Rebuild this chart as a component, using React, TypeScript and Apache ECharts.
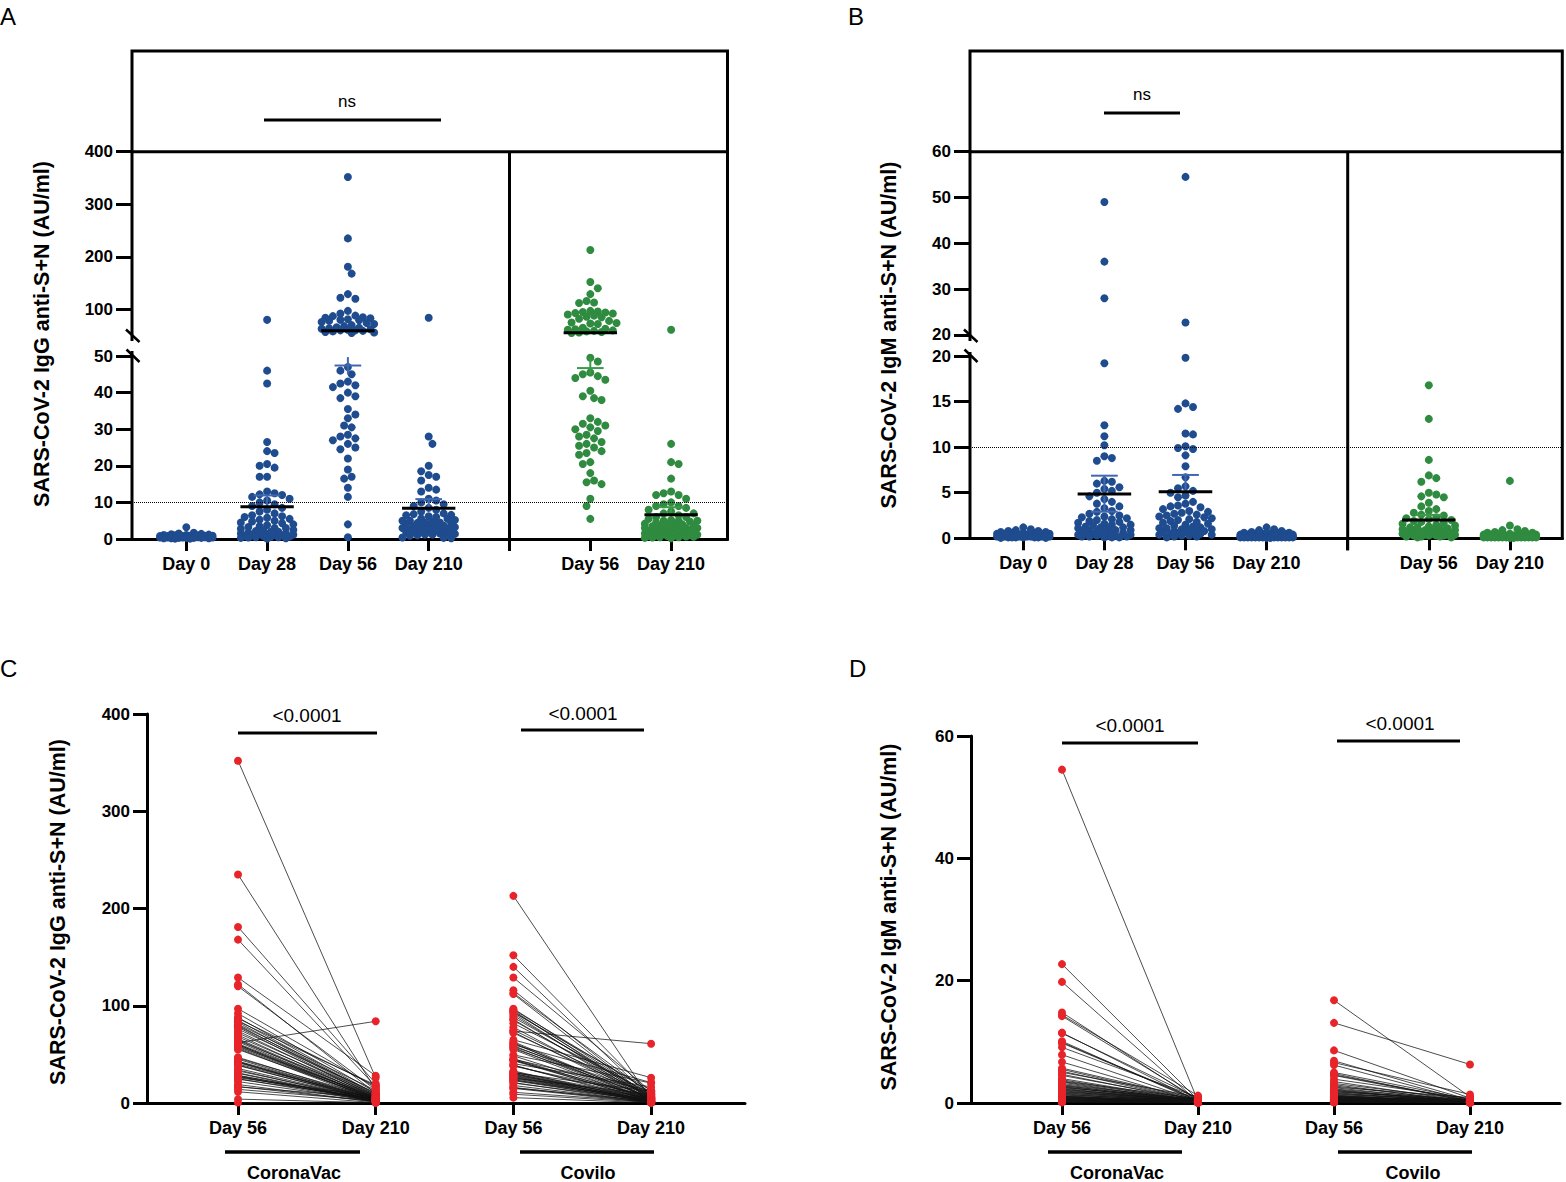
import React, { useEffect, useRef } from 'react';
import * as echarts from 'echarts';

// ---------------- data ----------------
const DOT_CATS = ['Day 0', 'Day 28', 'Day 56', 'Day 210', '', 'Day 56', 'Day 210'];
const PAIR_CATS = ['Day 56', 'Day 210', 'Day 56', 'Day 210'];
const GROUP_NAMES = ['CoronaVac', 'Covilo'];
const Y_TITLE_IGG = 'SARS-CoV-2 IgG anti-S+N (AU/ml)';
const Y_TITLE_IGM = 'SARS-CoV-2 IgM anti-S+N (AU/ml)';
const P_TEXT = '<0.0001';
const NS_TEXT = 'ns';
const THRESHOLD = 10;
const A_UP_TICKS = [100, 200, 300, 400];

const IGG_DAY0 = [3.2, 1.7, 1.5, 1.4, 1.3, 1.2, 1.1, 1.1, 1.0, 1.0, 0.9, 0.9, 0.9, 0.8, 0.8, 0.8, 0.7, 0.7, 0.7, 0.6,
  0.6, 0.6, 0.6, 0.5, 0.5, 0.5, 0.5, 0.4, 0.4, 0.4, 0.4, 0.3, 0.3, 0.3, 0.3, 0.2, 0.2, 0.2, 0.1, 0.1];

const IGG_DAY28 = [80, 46, 42.5, 26.5, 24, 23.5, 20.5, 20, 19.5, 17, 17, 13, 12.5, 12.2, 12, 11.5, 11, 10.5, 10, 9.5,
  9, 8.5, 8, 7.5, 7, 6.5, 6.2, 6, 5.8, 5.5, 5.3, 5, 4.8, 4.5, 4.3, 4, 3.8, 3.5, 3.3, 3,
  3, 2.8, 2.5, 2.4, 2.2, 2, 2, 1.8, 1.6, 1.5, 1.4, 1.3, 1.2, 1.1, 1, 1, 0.9, 0.8, 0.7, 0.6,
  0.5, 0.5, 0.4, 0.3, 0.2, 0.1];

// CoronaVac IgG [day 56, day 210] per subject
const CV_IGG_PAIRS = [
  [352, 26], [235, 14], [181, 20], [168, 17], [129, 28], [122, 10], [120, 13.5], [97, 16], [92, 11], [88, 9],
  [87, 17.5], [85, 8], [84, 18.5], [83, 7], [81, 13], [80, 6.5], [79, 9.5], [78, 5], [76, 10.5], [74, 6],
  [72, 8.5], [70, 4.5], [68, 7.5], [66, 5.5], [65, 4], [64, 6.8], [63, 3.5], [62, 84], [61, 5.2], [60, 3],
  [60, 4.8], [59, 2.5], [58, 6.2], [57, 3.8], [56, 2], [55, 4.5], [47, 3.2], [46, 5], [45, 2.8], [43, 4.2],
  [42.5, 1.5], [42, 3.5], [41.5, 2.3], [40, 4], [39, 1.8], [38.5, 3], [35.5, 2.5], [34, 1.2], [33, 3], [31, 2],
  [30.5, 1], [28.5, 2.6], [28, 3.6], [27.5, 1.5], [27, 2.2], [26, 6.6], [25, 1.4], [24.5, 4.4], [22, 1.9], [19, 0.9],
  [17, 1.2], [16.5, 5.6], [14, 2.4], [11.5, 0.4], [4, 0.3], [0.5, 0.2]];

// Covilo IgG [day 56, day 210]
const CO_IGG_PAIRS = [
  [213, 3], [152, 8], [140, 5], [129, 12], [116, 4], [113, 9], [112, 2.5], [97, 7], [96, 11], [95, 3.5],
  [94, 6], [93, 13], [92, 2], [90, 5.5], [88, 8.5], [86, 1.5], [85, 4.5], [82, 10], [78, 3], [75, 7.5],
  [74, 61], [73, 2.8], [72, 6.5], [65, 26], [63, 4], [62, 1.2], [61, 5], [60, 21], [59, 3.2], [58, 9.5],
  [57, 2.2], [56, 6], [55, 1], [49.5, 20.5], [48.5, 4.2], [45.5, 3.5], [45, 12.5], [44.5, 1.8], [44, 5.2], [43.5, 2.5],
  [40.5, 16.5], [39, 0.8], [38.5, 3], [38, 7], [33, 1.5], [32, 4.8], [31.5, 2], [31, 12], [30.5, 0.6], [30, 3.8],
  [29.5, 1.2], [28.5, 5], [28, 2.6], [27.5, 0.5], [26.5, 3.3], [26, 1.4], [25.5, 9], [25, 2.1], [24, 0.9], [23.5, 4],
  [23, 1.6], [21, 0.4], [20.5, 2.4], [18, 1], [16, 0.7], [15.5, 1.9], [15, 0.3], [11, 1.1], [9, 0.5], [5.5, 0.2]];

const IGM_DAY0 = [1.2, 1.0, 0.9, 0.8, 0.8, 0.7, 0.7, 0.6, 0.6, 0.6, 0.5, 0.5, 0.5, 0.5, 0.4, 0.4, 0.4, 0.4, 0.4, 0.3,
  0.3, 0.3, 0.3, 0.3, 0.3, 0.2, 0.2, 0.2, 0.2, 0.2, 0.2, 0.2, 0.1, 0.1, 0.1, 0.1, 0.1, 0.1, 0.05, 0.05];

const IGM_DAY28 = [49, 36, 28, 19.2, 12.4, 11.2, 10.2, 9.0, 8.8, 8.5, 6.3, 6.2, 6.0, 5.6, 5.4, 5.2, 5.0, 4.6, 4.3, 4.0,
  3.8, 3.5, 3.3, 3.0, 2.9, 2.7, 2.5, 2.4, 2.3, 2.2, 2.1, 2.0, 1.9, 1.8, 1.7, 1.6, 1.5, 1.5, 1.4, 1.3,
  1.2, 1.2, 1.1, 1.0, 0.9, 0.9, 0.8, 0.8, 0.7, 0.7, 0.6, 0.6, 0.5, 0.5, 0.5, 0.4, 0.4, 0.3, 0.3, 0.3,
  0.2, 0.2, 0.2, 0.1, 0.1, 0.1];

// CoronaVac IgM [day 56, day 210]
const CV_IGM_PAIRS = [
  [54.5, 0.3], [22.7, 0.5], [19.8, 0.2], [14.8, 0.4], [14.4, 1.2], [14.2, 0.6], [11.5, 0.3], [11.4, 0.8], [10.1, 0.2], [9.9, 0.5],
  [9.8, 0.4], [9.1, 0.9], [7.9, 0.3], [6.7, 0.2], [5.7, 0.6], [5.5, 0.4], [5.2, 0.3], [5.0, 1.0], [4.7, 0.2], [4.5, 0.5],
  [4.0, 0.3], [3.8, 0.2], [3.6, 0.7], [3.5, 0.4], [3.4, 0.1], [3.2, 0.3], [3.0, 0.5], [2.9, 0.2], [2.8, 0.4], [2.7, 0.1],
  [2.6, 0.3], [2.5, 0.6], [2.4, 0.2], [2.3, 0.1], [2.2, 0.4], [2.1, 0.3], [2.0, 0.2], [1.9, 0.1], [1.8, 0.5], [1.7, 0.2],
  [1.6, 0.3], [1.5, 0.1], [1.4, 0.2], [1.3, 0.4], [1.2, 0.1], [1.1, 0.3], [1.1, 0.2], [1.0, 0.1], [1.0, 0.2], [0.9, 0.3],
  [0.9, 0.1], [0.8, 0.2], [0.8, 0.1], [0.7, 0.2], [0.7, 0.1], [0.6, 0.1], [0.6, 0.2], [0.5, 0.1], [0.5, 0.1], [0.4, 0.2],
  [0.4, 0.1], [0.3, 0.1], [0.3, 0.1], [0.2, 0.1], [0.2, 0.05], [0.1, 0.05]];

// Covilo IgM [day 56, day 210]
const CO_IGM_PAIRS = [
  [16.8, 1.0], [13.1, 6.3], [8.6, 0.8], [6.9, 0.5], [6.6, 1.4], [6.2, 0.3], [5.0, 0.6], [4.8, 0.2], [4.6, 0.4], [4.5, 0.3],
  [3.9, 0.7], [3.5, 0.2], [3.2, 0.5], [3.0, 0.1], [2.8, 0.3], [2.6, 0.9], [2.5, 0.2], [2.3, 0.4], [2.2, 0.1], [2.0, 0.3],
  [1.9, 0.2], [1.8, 0.6], [1.7, 0.1], [1.6, 0.3], [1.5, 0.2], [1.4, 0.4], [1.3, 0.1], [1.2, 0.2], [1.1, 0.3], [1.0, 0.1],
  [1.0, 0.2], [0.9, 0.5], [0.9, 0.1], [0.8, 0.2], [0.8, 0.3], [0.7, 0.1], [0.7, 0.2], [0.6, 0.1], [0.6, 0.4], [0.5, 0.2],
  [0.5, 0.1], [0.5, 0.3], [0.4, 0.1], [0.4, 0.2], [0.4, 0.1], [0.3, 0.2], [0.3, 0.1], [0.3, 0.1], [0.2, 0.2], [0.2, 0.1],
  [0.2, 0.1], [0.1, 0.1], [0.1, 0.05], [1.2, 0.1], [0.6, 0.2], [2.1, 0.1], [0.9, 0.2], [1.1, 0.1], [0.3, 0.05], [0.7, 0.1]];

// mean and SEM marks: [category, value]
const MEANS_A = [[1, 8.8], [2, 59.3], [3, 8.4], [5, 55.6], [6, 6.6]];
const SEMS_A = [[1, 11.9], [2, 47.4], [3, 10.9], [5, 46.7], [6, 8.7]];
const WHISK_A = [[1, 8.8, 11.9], [2, 45.0, 49.7], [3, 8.4, 10.9], [5, 45.0, 49.6], [6, 6.6, 8.7]];
const MEANS_B = [[1, 4.86], [2, 5.1], [5, 2.0]];
const SEMS_B = [[1, 6.87], [1, 2.92], [2, 6.95], [5, 2.56]];
const WHISK_B = [[1, 2.92, 6.87], [2, 5.1, 6.95], [5, 2.0, 2.56]];

// ---------------- styling / layout ----------------
const FONT = "'Liberation Sans', Arial, Helvetica, sans-serif";
const BLUE = '#1f4c8f';
const GREEN = '#2f8b3f';
const RED = '#e8242b';
const SEG_STYLES = [
  { stroke: '#000', lineWidth: 3 },
  { stroke: '#4068b0', lineWidth: 2 },
  { stroke: '#3a9a4a', lineWidth: 2 },
];
const MEAN_HALF = 0.33;
const SEM_HALF = 0.165;
const DOT = 8;

const GA = { left: 132, right: 727.5, boxTop: 51, top: 151.7, upBottom: 335.6, lowTop: 356, bottom: 539, x0: 186.3, dx: 80.8, lowMax: 50, upMax: 400, gapA: 341, gapB: 351 };
const GB = { left: 970, right: 1562.3, boxTop: 51, top: 151.7, upBottom: 334.9, lowTop: 356, bottom: 538.3, x0: 1023.3, dx: 81.1, lowMax: 20, upMax: 60, gapA: 341, gapB: 352 };
const GC = { left: 147, right: 745, top: 714, bottom: 1103, x0: 238, dx: 137.7, max: 400, interval: 100 };
const GD = { left: 971, right: 1560, top: 736, bottom: 1103, x0: 1062, dx: 136, max: 60, interval: 20 };

function breakPy(G: any) {
  return (v: number) => v <= G.lowMax
    ? G.bottom - v * (G.bottom - G.lowTop) / G.lowMax
    : G.upBottom - (v - G.lowMax) * (G.upBottom - G.top) / (G.upMax - G.lowMax);
}

// deterministic beeswarm layout: horizontal offsets (px) so dots do not overlap
function swarm(vals: number[], py: (v: number) => number, d: number, maxW: number): number[] {
  const order = vals.map((_, i) => i).sort((a, b) => vals[b] - vals[a]);
  const placed: { x: number; y: number }[] = [];
  const out: number[] = new Array(vals.length).fill(0);
  const step = d / 2;
  const nMax = Math.floor(maxW / step);
  let flip = 1;
  for (const i of order) {
    const y = py(vals[i]);
    const near = placed.filter((p) => Math.abs(p.y - y) < d);
    let chosen: number | null = null;
    let bestX = 0;
    let bestScore = -1;
    outer: for (let k = 0; k <= nMax; k++) {
      const cands = k === 0 ? [0] : [flip * k * step, -flip * k * step];
      for (const x of cands) {
        let minD = Infinity;
        for (const p of near) {
          const dd = Math.hypot(p.x - x, p.y - y);
          if (dd < minD) minD = dd;
        }
        if (minD >= d) { chosen = x; break outer; }
        if (minD > bestScore) { bestScore = minD; bestX = x; }
      }
    }
    const x = chosen !== null ? chosen : bestX;
    if (x !== 0) flip = -flip;
    placed.push({ x, y });
    out[i] = x;
  }
  return out;
}

const segRender = (params: any, api: any) => {
  const p1 = api.coord([api.value(0), api.value(1)]);
  const p2 = api.coord([api.value(2), api.value(3)]);
  const st = SEG_STYLES[api.value(4)] || SEG_STYLES[0];
  return {
    type: 'line',
    shape: { x1: p1[0], y1: p1[1], x2: p2[0], y2: p2[1] },
    style: { stroke: st.stroke, lineWidth: st.lineWidth },
  };
};

function segSeries(axisIdx: number, data: number[][], z = 5) {
  return {
    type: 'custom', xAxisIndex: axisIdx, yAxisIndex: axisIdx, data, renderItem: segRender,
    clip: false, silent: true, z,
  };
}

const pairRender = (params: any, api: any) => {
  const p1 = api.coord([api.value(0), api.value(1)]);
  const p2 = api.coord([api.value(2), api.value(3)]);
  return {
    type: 'line',
    shape: { x1: p1[0], y1: p1[1], x2: p2[0], y2: p2[1] },
    style: { stroke: '#111', lineWidth: 0.75 },
  };
};

function scatter(axisIdx: number, data: number[][], color: string, size: number, extra: any = {}) {
  return {
    type: 'scatter', xAxisIndex: axisIdx, yAxisIndex: axisIdx, data, symbol: 'circle', symbolSize: size,
    itemStyle: { color, opacity: 1 }, silent: true, z: 2, ...extra,
  };
}

const thresholdLine = {
  silent: true, symbol: ['none', 'none'], label: { show: false },
  lineStyle: { type: 'dotted', color: '#000', width: 1 },
  data: [{ yAxis: THRESHOLD }],
};

function dotPanelSeries(G: any, low: number, up: number, groups: any[], means: number[][], sems: number[][], whisk: number[][]) {
  const py = breakPy(G);
  const b: any = { lowB: [], lowG: [], upB: [], upG: [] };
  groups.forEach((g) => {
    const offs = swarm(g.vals, py, 7.5, 27);
    g.vals.forEach((v: number, i: number) => {
      const key = (v <= G.lowMax ? 'low' : 'up') + (g.green ? 'G' : 'B');
      b[key].push([g.x + offs[i] / G.dx, v]);
    });
  });
  const segLow: number[][] = [];
  const segUp: number[][] = [];
  const push = (seg: number[], v: number) => (v <= G.lowMax ? segLow : segUp).push(seg);
  whisk.forEach(([x, a, c]) => push([x, a, x, c, x >= 5 ? 2 : 1], Math.max(a, c)));
  sems.forEach(([x, s]) => push([x - SEM_HALF, s, x + SEM_HALF, s, x >= 5 ? 2 : 1], s));
  means.forEach(([x, m]) => push([x - MEAN_HALF, m, x + MEAN_HALF, m, 0], m));
  return [
    scatter(low, b.lowB, BLUE, DOT, { markLine: thresholdLine }),
    scatter(low, b.lowG, GREEN, DOT),
    scatter(up, b.upB, BLUE, DOT),
    scatter(up, b.upG, GREEN, DOT),
    segSeries(low, segLow),
    segSeries(up, segUp),
  ];
}

function pairPanelSeries(axisIdx: number, cv: number[][], co: number[][]) {
  const lines = cv.map((p) => [0, p[0], 1, p[1]]).concat(co.map((p) => [2, p[0], 3, p[1]]));
  const dots: number[][] = [];
  cv.forEach((p) => { dots.push([0, p[0]]); dots.push([1, p[1]]); });
  co.forEach((p) => { dots.push([2, p[0]]); dots.push([3, p[1]]); });
  return [
    { type: 'custom', xAxisIndex: axisIdx, yAxisIndex: axisIdx, data: lines, renderItem: pairRender, clip: false, silent: true, z: 1 },
    scatter(axisIdx, dots, RED, 8, { z: 3 }),
  ];
}

const labelStyle = (size: number, margin: number) => ({
  color: '#000', fontSize: size, fontWeight: 'bold', fontFamily: FONT, margin,
});

function dotXAxis(idx: number, G: any) {
  return {
    type: 'value', gridIndex: idx, min: (G.left - G.x0) / G.dx, max: (G.right - G.x0) / G.dx,
    axisLine: { show: true, onZero: false, lineStyle: { color: '#000', width: 3 } },
    axisTick: { show: true, length: 12, lineStyle: { color: '#000', width: 3 }, customValues: [0, 1, 2, 3, 4, 5, 6] },
    axisLabel: { ...labelStyle(18, 16), customValues: [0, 1, 2, 3, 5, 6], formatter: (v: number) => DOT_CATS[Math.round(v)] },
    splitLine: { show: false },
  };
}
function hiddenXAxis(idx: number, G: any) {
  return { type: 'value', gridIndex: idx, min: (G.left - G.x0) / G.dx, max: (G.right - G.x0) / G.dx, show: false };
}
function pairXAxis(idx: number, G: any) {
  return {
    type: 'value', gridIndex: idx, min: (G.left - G.x0) / G.dx, max: (G.right - G.x0) / G.dx,
    axisLine: { show: true, onZero: false, lineStyle: { color: '#000', width: 3 } },
    axisTick: { show: true, length: 12, lineStyle: { color: '#000', width: 3 }, customValues: [0, 1, 2, 3] },
    axisLabel: { ...labelStyle(18, 16), customValues: [0, 1, 2, 3], formatter: (v: number) => PAIR_CATS[Math.round(v)] },
    splitLine: { show: false },
  };
}
function yAx(idx: number, min: number, max: number, extra: any, showLine = false, tickLen = 16, margin = 19) {
  const tick: any = { show: true, length: tickLen, lineStyle: { color: '#000', width: 3 } };
  const label: any = { ...labelStyle(17, margin) };
  if (extra.customValues) {
    tick.customValues = extra.customValues;
    label.customValues = extra.customValues;
  }
  const ax: any = {
    type: 'value', gridIndex: idx, min, max, position: 'left',
    axisLine: { show: showLine, onZero: false, lineStyle: { color: '#000', width: 3 } },
    axisTick: tick,
    axisLabel: label,
    splitLine: { show: false },
  };
  if (extra.interval) ax.interval = extra.interval;
  return ax;
}

// graphic helpers (frames and annotations)
const gl = (x1: number, y1: number, x2: number, y2: number, w = 3) => ({
  type: 'line', silent: true, shape: { x1, y1, x2, y2 }, style: { stroke: '#000', lineWidth: w },
});
const gt = (x: number, y: number, t: string, size: number, weight = 'normal', rot = 0, align = 'center') => ({
  type: 'text', silent: true, x, y, rotation: rot,
  style: {
    text: t, fill: '#000', fontSize: size, fontWeight: weight, fontFamily: FONT,
    align, verticalAlign: 'middle', textAlign: align, textVerticalAlign: 'middle',
  },
});

function frame(G: any, marks: number[][]) {
  const divX = G.x0 + 4 * G.dx;
  return [
    { type: 'rect', silent: true, shape: { x: G.left, y: G.boxTop, width: G.right - G.left, height: G.top - G.boxTop }, style: { fill: 'none', stroke: '#000', lineWidth: 3 } },
    gl(G.right, G.top, G.right, G.bottom + 1.5),
    gl(G.left, G.top, G.left, G.gapA),
    gl(G.left, G.gapB, G.left, G.bottom + 1.5),
    gl(divX, G.top, divX, G.bottom + 12),
    ...marks.map((m) => gl(m[0], m[1], m[2], m[3], 2.5)),
  ];
}

function buildOption() {
  const rc = (G: any) => ({ left: G.left, width: G.right - G.left });
  const grid = [
    { ...rc(GA), top: GA.lowTop, height: GA.bottom - GA.lowTop },
    { ...rc(GA), top: GA.top, height: GA.upBottom - GA.top },
    { ...rc(GB), top: GB.lowTop, height: GB.bottom - GB.lowTop },
    { ...rc(GB), top: GB.top, height: GB.upBottom - GB.top },
    { ...rc(GC), top: GC.top, height: GC.bottom - GC.top },
    { ...rc(GD), top: GD.top, height: GD.bottom - GD.top },
  ];
  const xAxis = [dotXAxis(0, GA), hiddenXAxis(1, GA), dotXAxis(2, GB), hiddenXAxis(3, GB), pairXAxis(4, GC), pairXAxis(5, GD)];
  const yAxis = [
    yAx(0, 0, GA.lowMax, { interval: 10 }),
    yAx(1, GA.lowMax, GA.upMax, { customValues: A_UP_TICKS }),
    yAx(2, 0, GB.lowMax, { interval: 5 }),
    yAx(3, GB.lowMax, GB.upMax, { interval: 10 }),
    yAx(4, 0, GC.max, { interval: GC.interval }, true, 14, 17),
    yAx(5, 0, GD.max, { interval: GD.interval }, true, 14, 17),
  ];

  const groupsA = [
    { x: 0, vals: IGG_DAY0 },
    { x: 1, vals: IGG_DAY28 },
    { x: 2, vals: CV_IGG_PAIRS.map((p) => p[0]) },
    { x: 3, vals: CV_IGG_PAIRS.map((p) => p[1]) },
    { x: 5, vals: CO_IGG_PAIRS.map((p) => p[0]), green: true },
    { x: 6, vals: CO_IGG_PAIRS.map((p) => p[1]), green: true },
  ];
  const groupsB = [
    { x: 0, vals: IGM_DAY0 },
    { x: 1, vals: IGM_DAY28 },
    { x: 2, vals: CV_IGM_PAIRS.map((p) => p[0]) },
    { x: 3, vals: CV_IGM_PAIRS.map((p) => p[1]) },
    { x: 5, vals: CO_IGM_PAIRS.map((p) => p[0]), green: true },
    { x: 6, vals: CO_IGM_PAIRS.map((p) => p[1]), green: true },
  ];

  const series = [
    ...dotPanelSeries(GA, 0, 1, groupsA, MEANS_A, SEMS_A, WHISK_A),
    ...dotPanelSeries(GB, 2, 3, groupsB, MEANS_B, SEMS_B, WHISK_B),
    ...pairPanelSeries(4, CV_IGG_PAIRS, CO_IGG_PAIRS),
    ...pairPanelSeries(5, CV_IGM_PAIRS, CO_IGM_PAIRS),
  ];

  const R = Math.PI / 2;
  const elements = [
    ...frame(GA, [[126, 329.5, 139.5, 342], [126.5, 349.5, 139.5, 362]]),
    ...frame(GB, [[964, 329.5, 977.5, 342], [964.5, 349.5, 977.5, 362]]),
    // panel letters
    gt(0, 16, 'A', 24, 'normal', 0, 'left'),
    gt(848, 16, 'B', 24, 'normal', 0, 'left'),
    gt(0, 668, 'C', 24, 'normal', 0, 'left'),
    gt(849, 668, 'D', 24, 'normal', 0, 'left'),
    // axis titles
    gt(42, 334, Y_TITLE_IGG, 21.5, 'bold', R),
    gt(889, 335, Y_TITLE_IGM, 21.5, 'bold', R),
    gt(58, 912, Y_TITLE_IGG, 21.5, 'bold', R),
    gt(889, 917, Y_TITLE_IGM, 21.5, 'bold', R),
    // significance annotations
    gt(347, 101, NS_TEXT, 17), gl(264, 120, 441, 120),
    gt(1142, 94, NS_TEXT, 17), gl(1104, 113, 1180, 113),
    gt(307, 715, P_TEXT, 19), gl(238, 733, 377, 733),
    gt(583, 713, P_TEXT, 19), gl(521, 730, 644, 730),
    gt(1130, 725, P_TEXT, 19), gl(1062, 743, 1198, 743),
    gt(1400, 723, P_TEXT, 19), gl(1337, 741, 1460, 741),
    // group labels
    gl(225, 1152, 360, 1152, 3.5), gt(294, 1173, GROUP_NAMES[0], 18, 'bold'),
    gl(520, 1152, 654, 1152, 3.5), gt(588, 1173, GROUP_NAMES[1], 18, 'bold'),
    gl(1048, 1152, 1182, 1152, 3.5), gt(1117, 1173, GROUP_NAMES[0], 18, 'bold'),
    gl(1338, 1152, 1472, 1152, 3.5), gt(1413, 1173, GROUP_NAMES[1], 18, 'bold'),
  ];

  return {
    animation: false,
    backgroundColor: '#ffffff',
    textStyle: { fontFamily: FONT },
    grid,
    xAxis,
    yAxis,
    series,
    graphic: { elements },
  };
}

export default function App() {
  const ref = useRef<HTMLDivElement>(null);
  useEffect(() => {
    document.body.style.margin = '0';
    document.body.style.overflow = 'hidden';
    if (!ref.current) return;
    const chart = echarts.init(ref.current, null, { renderer: 'svg' });
    chart.setOption(buildOption() as any);
    return () => chart.dispose();
  }, []);
  return <div ref={ref} style={{ width: 1566, height: 1182, background: '#fff' }} />;
}
